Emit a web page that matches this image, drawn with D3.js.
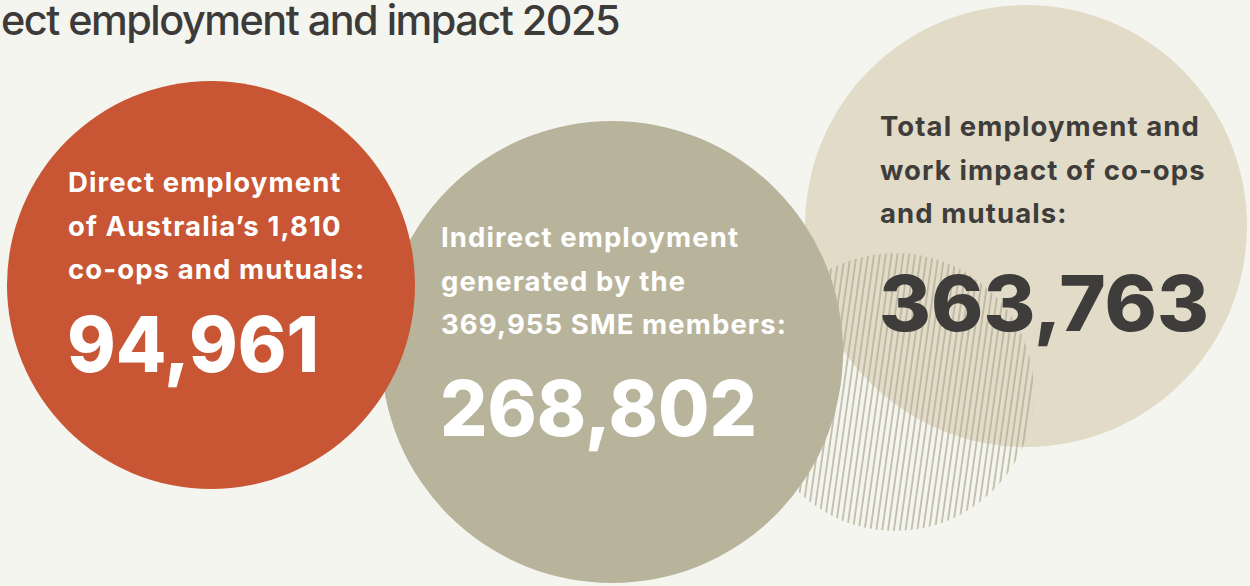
<!DOCTYPE html>
<html>
<head>
<meta charset="utf-8">
<script src="https://cdn.jsdelivr.net/npm/d3@7"></script>
<style>
  html, body { margin: 0; padding: 0; background: #f5f5f0; overflow: hidden; }
  svg { display: block; font-family: Inter, "Noto Sans", sans-serif; }
</style>
</head>
<body>
<svg id="canvas"></svg>
<script>
var width = 1250;
var height = 586;

// data
var categories = ["Direct", "Indirect", "Total"];
var values = [94961, 268802, 363763];
var labels = [
    ["Direct employment", "of Australia\u2019s 1,810", "co-ops and mutuals:"],
    ["Indirect employment", "generated by the", "369,955 SME members:"],
    ["Total employment and", "work impact of co-ops", "and mutuals:"]
];
var title = "ect employment and impact 2025";

// layout (bubbles are placed by hand in the original, not sized by value)
var layout = {
    Direct:   { cx: 211, cy: 285, r: 204, fill: "#c85634", ink: "#ffffff", tx: 68,  ty: 192, ny: 372, nw: 252 },
    Indirect: { cx: 612, cy: 352, r: 231, fill: "#b8b49b", ink: "#ffffff", tx: 441, ty: 247, ny: 436, nw: 317 },
    Total:    { cx: 1026, cy: 226, r: 221, fill: "#e2dbc7", ink: "#3f3d3b", tx: 880, ty: 136, ny: 331, nw: 330 }
};
var hatch = { cx: 895, cy: 392, r: 139 };

var fmt = d3.format(",");

var rows = categories.map((c, i) => Object.assign({ key: c, value: values[i], lines: labels[i] }, layout[c]));

var svg = d3.select("#canvas")
    .attr("width", width)
    .attr("height", height);

svg.append("rect")
    .attr("width", width)
    .attr("height", height)
    .attr("fill", "#f5f5f0");

var defs = svg.append("defs");

defs.append("pattern")
    .attr("id", "hatch")
    .attr("patternUnits", "userSpaceOnUse")
    .attr("width", 5.8)
    .attr("height", 10)
    .attr("patternTransform", "rotate(8)")
    .append("line")
    .attr("x1", 2).attr("y1", 0)
    .attr("x2", 2).attr("y2", 10)
    .attr("stroke", "#b1ad95")
    .attr("stroke-width", 1.4);

// title (cut off at the left in the original)
svg.append("text")
    .attr("x", 1)
    .attr("y", 35)
    .attr("font-size", 41)
    .attr("font-weight", 500)
    .attr("letter-spacing", -1.5)
    .attr("fill", "#3d3b39")
    .attr("textLength", 618)
    .attr("lengthAdjust", "spacingAndGlyphs")
    .text(title);

function bigNumber(g, d) {
    g.append("text")
        .attr("x", d.tx - 1)
        .attr("y", d.ny)
        .attr("fill", d.ink)
        .attr("font-size", 77)
        .attr("font-weight", 800)
        .attr("textLength", d.nw)
        .attr("lengthAdjust", "spacingAndGlyphs")
        .text(fmt(d.value));
}

// draw order: total (back), hatch, indirect, direct (front)
var order = ["Total", "hatch", "Indirect", "Direct"];

order.forEach(function(k) {
    if (k == "hatch") {
        svg.append("circle")
            .attr("cx", hatch.cx)
            .attr("cy", hatch.cy)
            .attr("r", hatch.r)
            .attr("fill", "url(#hatch)");
        return;
    }
    var d = rows.find(r => r.key == k);
    var g = svg.append("g").attr("class", "bubble");

    g.append("circle")
        .attr("cx", d.cx)
        .attr("cy", d.cy)
        .attr("r", d.r)
        .attr("fill", d.fill);

    g.append("text")
        .attr("fill", d.ink)
        .attr("font-size", 27.5)
        .attr("font-weight", 700)
        .attr("letter-spacing", 1.1)
        .selectAll("tspan")
        .data(d.lines)
        .join("tspan")
        .attr("x", d.tx)
        .attr("y", (t, i) => d.ty + i * 43.5)
        .text(t => t);

    if (k != "Total") bigNumber(g, d);
});

// hatch lines sit above the beige bubble, so the total's number goes on top
bigNumber(svg.append("g"), rows.find(r => r.key == "Total"));
</script>
</body>
</html>
